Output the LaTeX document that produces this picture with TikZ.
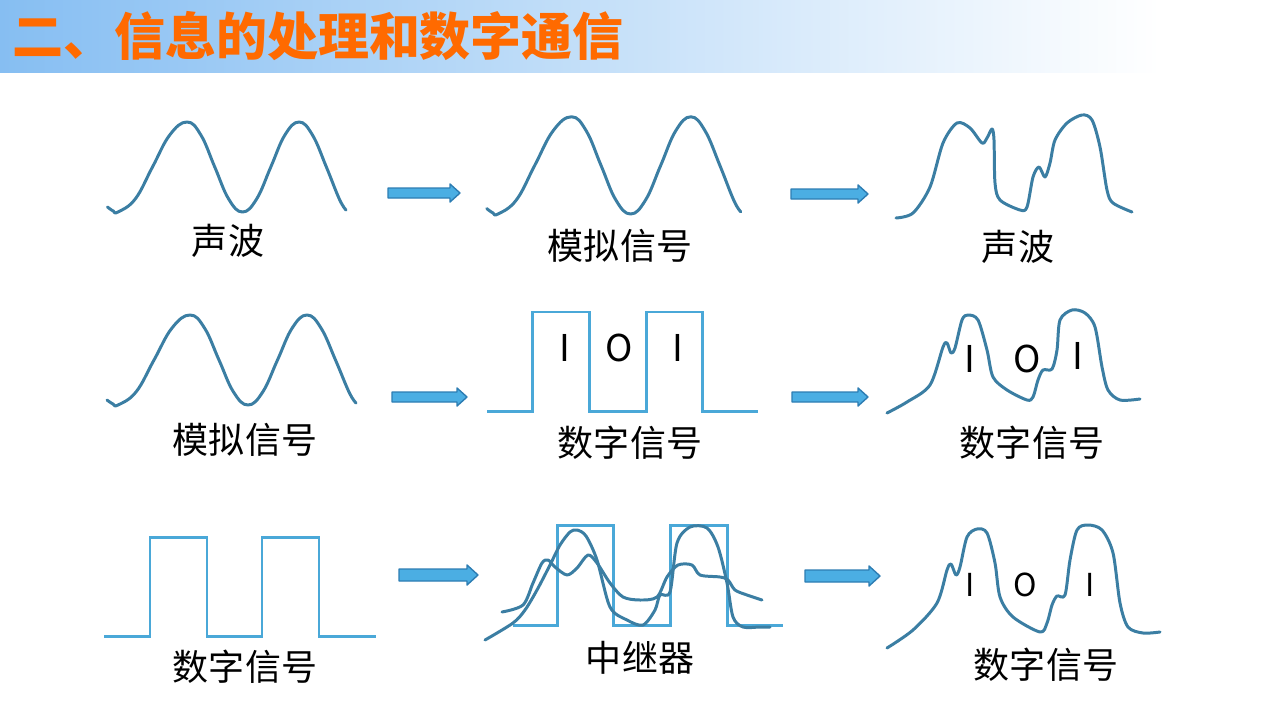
\documentclass[tikz,border=0pt]{standalone}
\usepackage{fontspec}
\newfontfamily\cjk{Noto Sans CJK SC}
\usetikzlibrary{positioning}
\definecolor{wavecol}{HTML}{3B7EA3}
\definecolor{squarecol}{HTML}{4AA8D8}
\definecolor{arrowfill}{HTML}{4BAEE3}
\definecolor{arrowedge}{HTML}{2D7DB3}
\definecolor{titleorange}{HTML}{FF6A00}
\definecolor{bandblue}{HTML}{86BEF2}
\tikzset{
  wave/.style={draw=wavecol, line width=1.7pt, line cap=round, line join=round},
  squarewave/.style={draw=squarecol, line width=1.7pt, line join=miter},
  caption/.style={font=\cjk\fontsize{20.5pt}{24pt}\selectfont, inner sep=0pt},
  bit/.style={font=\cjk\fontsize{21pt}{24pt}\selectfont, inner sep=0pt},
  flow/.style={fill=arrowfill, draw=arrowedge, line width=0.8pt, line join=round},
  heading/.style={font=\cjk\bfseries\fontsize{29pt}{32pt}\selectfont, text=titleorange, inner sep=0pt, anchor=west}
}
% block arrow: x start, x tip, y, half body, half head, head length
\newcommand{\flowarrow}[6]{%
  \draw[flow] (#1,#3-#4) -- (#2-#6,#3-#4) -- (#2-#6,#3-#5) -- (#2,#3)
    -- (#2-#6,#3+#5) -- (#2-#6,#3+#4) -- (#1,#3+#4) -- cycle;}
% analog wave, first minimum at the origin
\newcommand{\analogwave}{plot[smooth,tension=0.7] coordinates {(-11,-5) (-5,-1) (0,0) (18,-13) (36,-45) (54,-77) (72,-90) (86.5,-77) (101,-45) (115.5,-13) (130,0) (144.7,-13) (159.5,-45) (174.2,-77) (189,-90) (203,-77) (217.5,-45) (231,-13) (238,-2)}}

\begin{document}
\begin{tikzpicture}[x=0.02cm,y=-0.02cm]
\useasboundingbox (0,0) rectangle (1280,720);
\fill[white] (0,0) rectangle (1280,720);
\shade[left color=bandblue, right color=white] (0,0) rectangle (1160,72);
\node[heading] (title) at (12,36) {二、信息的处理和数字通信};

% row 1: sound wave -> analog signal -> sound wave
\draw[wave,shift={(118,212)},xscale=0.958] \analogwave;
\node[caption] (c11) at (228,241) {声波};
\flowarrow{388}{460}{193}{5}{9}{10}
\draw[wave,shift={(498,214)},xscale=1.02,yscale=1.08] \analogwave;
\node[caption] (c12) at (620,246) {模拟信号};
\flowarrow{791}{868}{194}{5}{9}{10}
\draw[wave] plot[smooth,tension=0.5] coordinates {(896,218) (913,213) (930,187) (943,143) (957,123) (970,128) (982,143) (987,138) (992,129) (994,140) (995,183) (1000,200) (1020,210) (1027,207) (1033,177) (1039,167) (1045,177) (1050,163) (1055,140) (1067,123) (1082,115) (1092,120) (1100,147) (1107,190) (1113,203) (1132,212)};
\node[caption] (c13) at (1018,247) {声波};

% row 2: analog signal -> digital signal -> digital signal
\draw[wave,shift={(118,405)}] \analogwave;
\node[caption] (c21) at (245,440) {模拟信号};
\flowarrow{392}{467}{397}{5}{9}{10}
\draw[squarewave] (487,411) -- (532,411) -- (532,312) -- (589,312) -- (589,411) -- (646,411) -- (646,312) -- (702,312) -- (702,411) -- (758,411);
\node[bit] (b21) at (565,348) {I};
\node[bit] (b22) at (619,348) {O};
\node[bit] (b23) at (678,348) {I};
\node[caption] (c22) at (630,443) {数字信号};
\flowarrow{792}{868}{397}{5}{9}{10}
\draw[wave] plot[smooth,tension=0.5] coordinates {(887,413) (907,402) (930,385) (943,347) (947,343) (951,353) (955,348) (962,320) (968,315) (978,320) (987,350) (993,377) (1007,390) (1027,400) (1033,397) (1038,380) (1043,370) (1052,369) (1057,350) (1060,320) (1072,310) (1085,313) (1095,327) (1102,367) (1108,390) (1120,400) (1140,399)};
\node[bit] (b31) at (970,359) {I};
\node[bit] (b32) at (1027,359) {O};
\node[bit] (b33) at (1078,356) {I};
\node[caption] (c23) at (1032,443) {数字信号};

% row 3: digital signal -> repeater -> digital signal
\draw[squarewave] (104,636) -- (150,636) -- (150,537) -- (207,537) -- (207,636) -- (262,636) -- (262,537) -- (319,537) -- (319,636) -- (376,636);
\node[caption] (c31) at (245,667) {数字信号};
\flowarrow{399}{478}{575}{6}{10}{11}
\draw[squarewave] (513,625) -- (557,625) -- (557,525) -- (613,525) -- (613,625) -- (670,625) -- (670,525) -- (727,525) -- (727,625) -- (783,625);
\draw[wave] plot[smooth,tension=0.5] coordinates {(485,640) (513,623) (525,610) (537,590) (550,565) (560,545) (570,532) (577,530) (586,536) (597,560) (610,607) (627,620) (643,625) (655,610) (660,595) (670,592) (677,543) (690,527) (707,528) (718,547) (727,583) (733,617) (743,627) (760,627) (770,627)};
\draw[wave] plot[smooth,tension=0.5] coordinates {(502,612) (523,605) (533,583) (542,563) (548,560) (555,567) (567,575) (577,568) (588,555) (597,563) (610,583) (623,597) (640,600) (657,597) (667,577) (678,565) (692,565) (700,575) (720,577) (728,580) (735,590) (747,595) (762,600)};
\node[caption] (c32) at (640,658) {中继器};
\flowarrow{805}{880}{576}{6}{10}{11}
\draw[wave] plot[smooth,tension=0.5] coordinates {(887,648) (913,630) (937,603) (947,570) (951,564) (956,575) (960,567) (967,537) (977,529) (987,533) (995,563) (1000,597) (1013,617) (1040,632) (1047,623) (1052,605) (1057,596) (1065,595) (1070,560) (1077,530) (1088,525) (1102,530) (1113,553) (1120,603) (1128,627) (1143,633) (1160,632)};
\node[bit,font=\cjk\fontsize{18pt}{20pt}\selectfont] (b41) at (970,585) {I};
\node[bit,font=\cjk\fontsize{18pt}{20pt}\selectfont] (b42) at (1025,585) {O};
\node[bit,font=\cjk\fontsize{18pt}{20pt}\selectfont] (b43) at (1090,585) {I};
\node[caption] (c33) at (1046,665) {数字信号};
\end{tikzpicture}
\end{document}
